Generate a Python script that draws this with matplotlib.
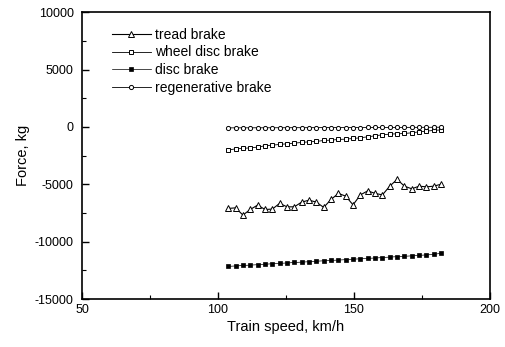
import matplotlib
matplotlib.use("Agg")
import matplotlib.pyplot as plt
from matplotlib.ticker import MultipleLocator

plt.rcParams['font.family'] = ['Liberation Sans', 'DejaVu Sans']
plt.rcParams['axes.unicode_minus'] = False

speed = [103.8, 106.5, 109.2, 111.9, 114.6, 117.3, 120.0, 122.7, 125.4, 128.1,
         130.8, 133.5, 136.2, 138.9, 141.6, 144.3, 147.0, 149.7, 152.4, 155.1,
         157.8, 160.5, 163.2, 165.9, 168.6, 171.3, 174.0, 176.7, 179.4, 182.2]

tread = [-7100, -7050, -7680, -7190, -6810, -7190, -7160, -6660, -6960, -6960,
         -6550, -6380, -6550, -7010, -6320, -5790, -6030, -6790, -5920, -5570,
         -5790, -5920, -5160, -4570, -5160, -5390, -5160, -5220, -5160, -4980]

wheel_disc = [-2020, -1905, -1875, -1817, -1760, -1643, -1585, -1527, -1469, -1411,
              -1353, -1295, -1266, -1179, -1150, -1092, -1063, -1005, -947, -860,
              -773, -686, -628, -599, -570, -512, -425, -367, -300, -260]

disc = [-12150, -12110, -12070, -12040, -12000, -11960, -11920, -11890, -11850, -11810,
        -11780, -11740, -11700, -11660, -11630, -11600, -11560, -11520, -11490, -11450,
        -11420, -11380, -11340, -11300, -11270, -11230, -11190, -11150, -11100, -11000]

regen = [-80, -78, -76, -75, -73, -72, -70, -68, -67, -65,
         -63, -62, -60, -58, -57, -55, -53, -52, -50, -48,
         -47, -45, -43, -42, -40, -38, -36, -34, -30, -25]

fig = plt.figure(figsize=(5.06, 3.47), dpi=100)
ax = fig.add_axes([0.162, 0.138, 0.806, 0.827])

ax.plot(speed, tread, '-', color='black', lw=0.8, marker='^', ms=4,
        mfc='white', mec='black', mew=0.7, label='tread brake')
ax.plot(speed, wheel_disc, '-', color='black', lw=0.6, marker='s', ms=3,
        mfc='white', mec='black', mew=0.7, label='wheel disc brake')
ax.plot(speed, disc, '-', color='black', lw=0.5, marker='s', ms=3.4,
        mfc='black', mec='black', mew=0.5, label='disc brake')
ax.plot(speed, regen, '-', color='black', lw=0.6, marker='o', ms=3,
        mfc='white', mec='black', mew=0.7, label='regenerative brake')

ax.set_xlim(50, 200)
ax.set_ylim(-15000, 10000)
ax.xaxis.set_major_locator(MultipleLocator(50))
ax.xaxis.set_minor_locator(MultipleLocator(25))
ax.yaxis.set_major_locator(MultipleLocator(5000))
ax.yaxis.set_minor_locator(MultipleLocator(2500))
ax.tick_params(which='both', direction='in', top=False, right=False, labelsize=9)
ax.tick_params(axis='y', pad=6)
ax.tick_params(which='major', length=5, width=1)
ax.tick_params(which='minor', length=3, width=0.8)
for s in ax.spines.values():
    s.set_linewidth(1.2)

ax.set_xlabel('Train speed, km/h', fontsize=10.5, labelpad=3)
ax.set_ylabel('Force, kg', fontsize=10.5, labelpad=3)

ax.legend(loc='upper left', bbox_to_anchor=(0.06, 0.965), frameon=False,
          numpoints=1, handlelength=2.8, handletextpad=0.3, fontsize=10,
          labelspacing=0.27, borderaxespad=0)

fig.savefig('out.png', dpi=100)
